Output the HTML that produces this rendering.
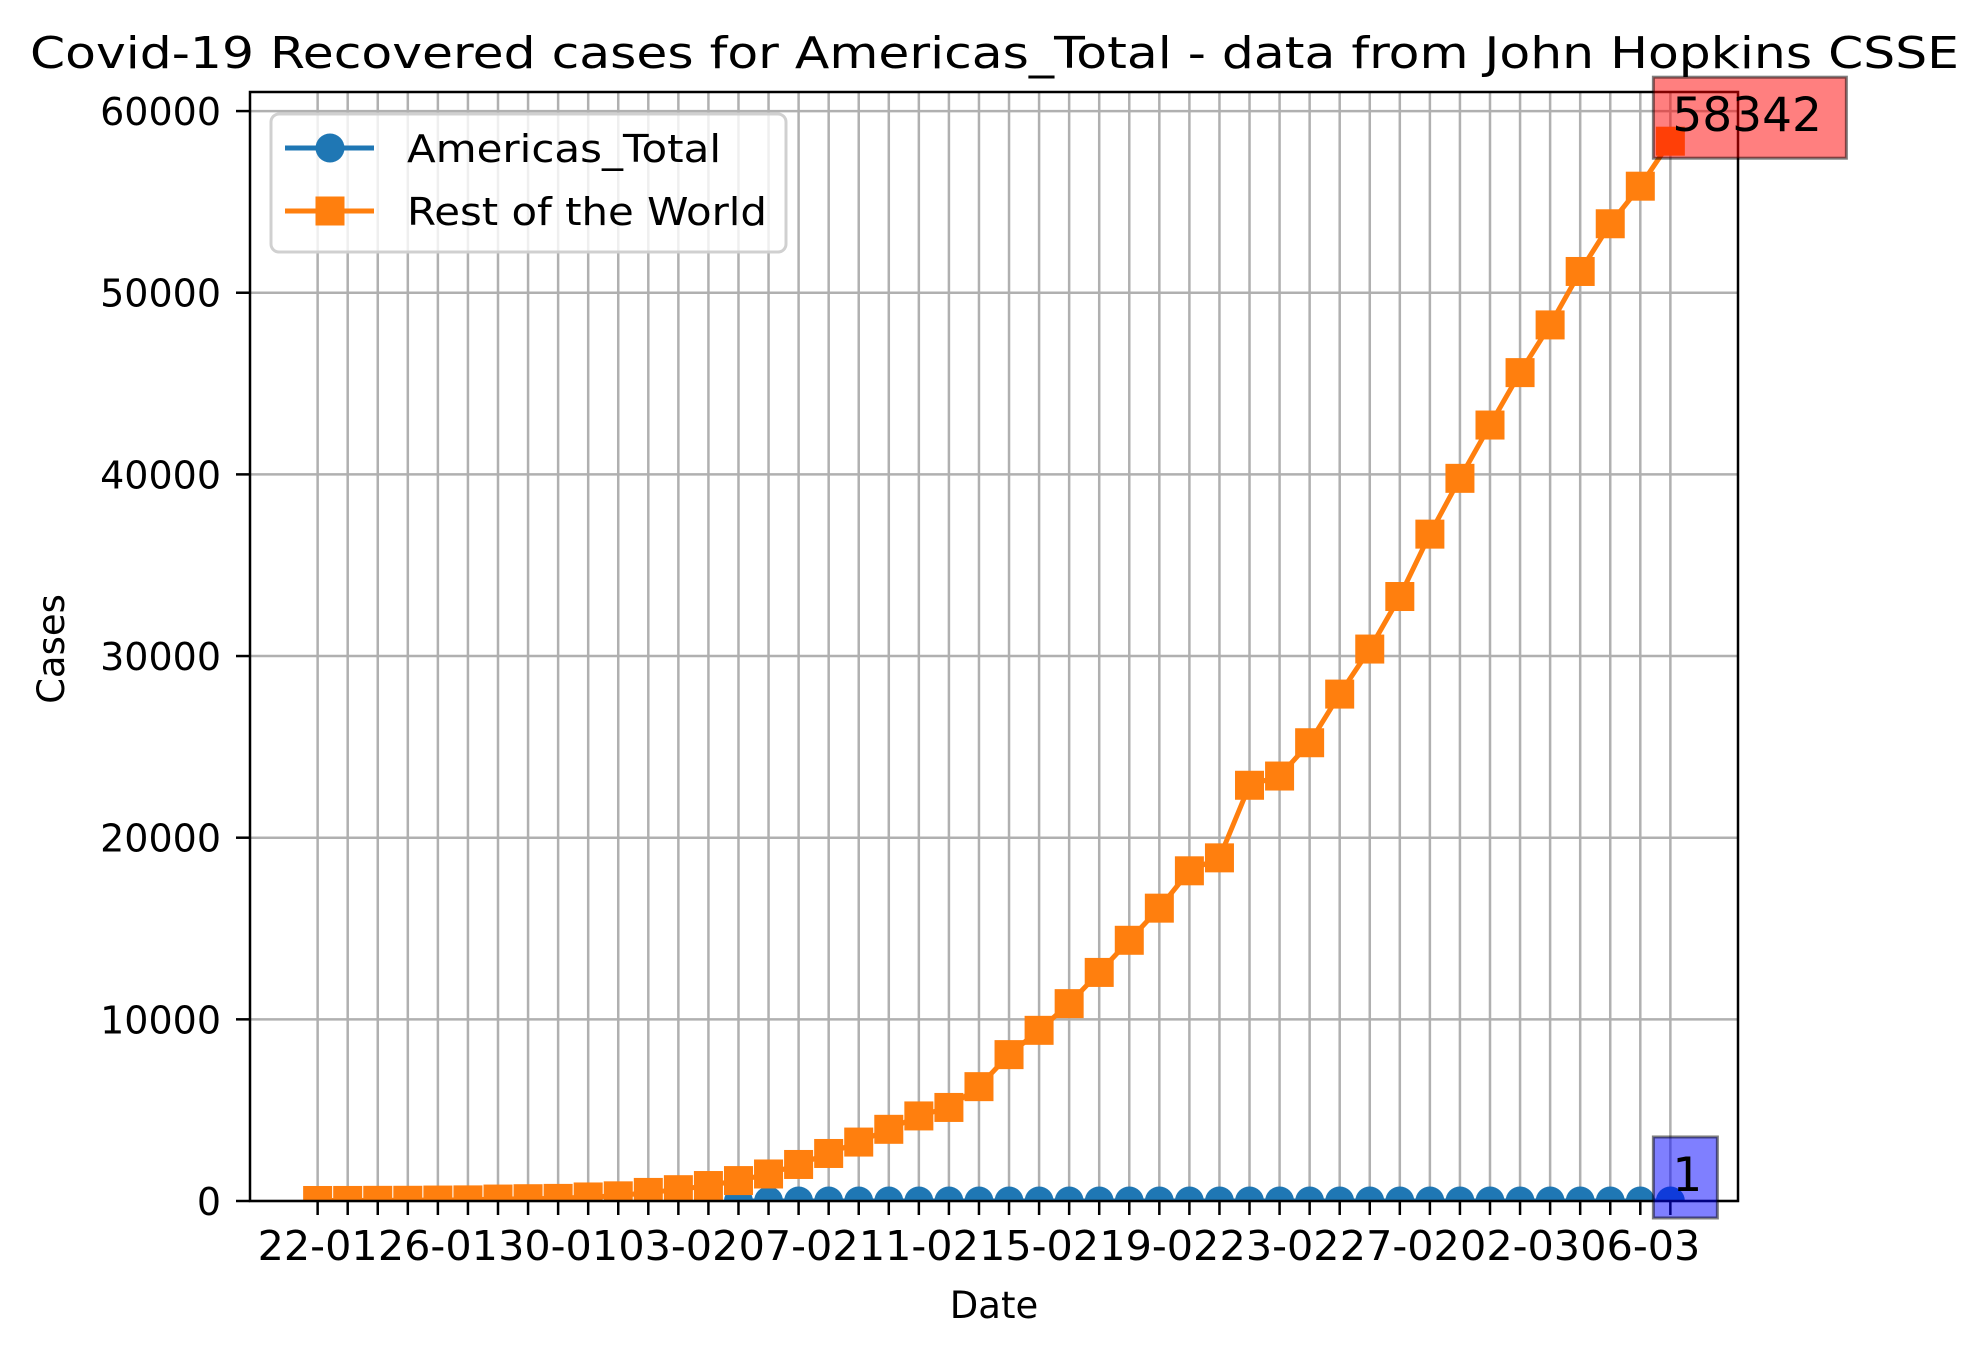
<!DOCTYPE html>
<html><head><meta charset="utf-8"><style>
html,body{margin:0;padding:0;background:#fff;}
svg{display:block;font-family:"DejaVu Sans","Liberation Sans",sans-serif;}
</style></head>
<body>
<svg id="chart" width="1988" height="1357" viewBox="0 0 1988 1357" xmlns="http://www.w3.org/2000/svg">
<defs><clipPath id="plotclip"><rect x="250" y="92" width="1488" height="1109"/></clipPath></defs>
<rect x="0" y="0" width="1988" height="1357" fill="#fff"/>
<text x="30" y="68" font-size="44" textLength="1929" lengthAdjust="spacingAndGlyphs">Covid-19 Recovered cases for Americas_Total - data from John Hopkins CSSE</text>
<g id="grid"></g>
<g id="series" clip-path="url(#plotclip)"></g>
<g id="axes"></g>
<g id="annots"></g>
<text x="994" y="1318" font-size="37" text-anchor="middle">Date</text>
<text x="0" y="0" font-size="37" text-anchor="middle" transform="translate(64,649) rotate(-90)">Cases</text>
<g>
<rect x="271" y="114" width="515" height="138" rx="8" fill="#fff" fill-opacity="0.8" stroke="#d0d0d0" stroke-width="3"/>
<g>
<line x1="285" y1="148" x2="374" y2="148" stroke="#1f77b4" stroke-width="5"/>
<circle cx="330" cy="148" r="14.5" fill="#1f77b4"/>
<text x="407" y="162" font-size="38" textLength="314" lengthAdjust="spacingAndGlyphs">Americas_Total</text>
</g>
<g>
<line x1="285" y1="211" x2="374" y2="211" stroke="#ff7f0e" stroke-width="5"/>
<rect x="315.5" y="196.5" width="29" height="29" fill="#ff7f0e"/>
<text x="407" y="225" font-size="38" textLength="360" lengthAdjust="spacingAndGlyphs">Rest of the World</text>
</g>
</g>
</svg>
<script>
const dates = ["22-01","23-01","24-01","25-01","26-01","27-01","28-01","29-01","30-01","31-01","01-02","02-02","03-02","04-02","05-02","06-02","07-02","08-02","09-02","10-02","11-02","12-02","13-02","14-02","15-02","16-02","17-02","18-02","19-02","20-02","21-02","22-02","23-02","24-02","25-02","26-02","27-02","28-02","29-02","01-03","02-03","03-03","04-03","05-03","06-03","07-03"];
const restOfWorld = [28,30,36,39,52,61,107,126,143,222,284,472,623,852,1124,1487,2011,2616,3244,3946,4683,5150,6295,8058,9395,10865,12583,14352,16121,18177,18890,22886,23394,25227,27905,30384,33277,36711,39782,42716,45602,48228,51170,53796,55865,58342];
const americas = [null,null,null,null,null,null,null,null,null,null,null,null,null,null,0,0,0,0,0,0,0,0,0,0,0,0,0,0,0,0,0,0,0,0,0,0,0,0,0,0,0,0,0,0,0,1];
const yTicks = [0,10000,20000,30000,40000,50000,60000];
const xTickEvery = 4;

const NS = "http://www.w3.org/2000/svg";
const L = 250, R = 1738, T = 92, B = 1201;
const n = dates.length;
const pad = (n - 1) * 0.05;
function xs(i){ return L + (i + pad) / (n - 1 + 2 * pad) * (R - L); }
const yMax = 61050;
function ys(v){ return B - v / yMax * (B - T); }
function mk(tag, attrs, parent){
  const e = document.createElementNS(NS, tag);
  for (const k in attrs) e.setAttribute(k, attrs[k]);
  parent.appendChild(e);
  return e;
}
const grid = document.getElementById('grid');
const axes = document.getElementById('axes');
const series = document.getElementById('series');
const annots = document.getElementById('annots');

dates.forEach((d, i) => {
  const g = mk('line', {x1: xs(i), x2: xs(i), y1: T, y2: B, stroke: '#b0b0b0', 'stroke-width': 2.5}, grid);
  
  
  const t = mk('line', {x1: xs(i), x2: xs(i), y1: B, y2: B + 14, stroke: '#000', 'stroke-width': 2.5}, axes);
  
  
  if (i % xTickEvery === 0) {
    const lb = mk('text', {x: xs(i) - 60, y: 1260, 'font-size': 41, textLength: 120, lengthAdjust: 'spacingAndGlyphs'}, axes);
    
    
    lb.textContent = d;
  }
});
yTicks.forEach(v => {
  const g = mk('line', {x1: L, x2: R, y1: ys(v), y2: ys(v), stroke: '#b0b0b0', 'stroke-width': 2.5}, grid);
  
  
  const t = mk('line', {x1: L - 14, x2: L, y1: ys(v), y2: ys(v), stroke: '#000', 'stroke-width': 2.5}, axes);
  
  
  const lb = mk('text', {x: 221, y: ys(v) + 14, 'font-size': 38, 'text-anchor': 'end'}, axes);
  
  
  lb.textContent = v;
});
const frame = mk('rect', {x: L, y: T, width: R - L, height: B - T, fill: 'none', stroke: '#000', 'stroke-width': 2.5}, axes);



let pts = [];
americas.forEach((v, i) => { if (v !== null) pts.push(xs(i) + ',' + ys(v)); });
const la = mk('polyline', {points: pts.join(' '), fill: 'none', stroke: '#1f77b4', 'stroke-width': 5}, series);


americas.forEach((v, i) => {
  if (v === null) return;
  const c = mk('circle', {cx: xs(i), cy: ys(v), r: 14.5, fill: '#1f77b4'}, series);
  
  
});
pts = restOfWorld.map((v, i) => xs(i) + ',' + ys(v));
const lr = mk('polyline', {points: pts.join(' '), fill: 'none', stroke: '#ff7f0e', 'stroke-width': 5}, series);


restOfWorld.forEach((v, i) => {
  const s = mk('rect', {x: xs(i) - 14.5, y: ys(v) - 14.5, width: 29, height: 29, fill: '#ff7f0e'}, series);
  
  
});

function annot(i, v, color, name, w){
  const px = xs(i), py = ys(v);
  const b = mk('rect', {x: px - 17, y: py - 64, width: w, height: 81, fill: color, 'fill-opacity': 0.5, stroke: '#000', 'stroke-opacity': 0.5, 'stroke-width': 3}, annots);
  
  
  const t = mk('text', {x: px + 2, y: py - 10, 'font-size': 47}, annots);
  
  
  t.textContent = v;
}
annot(n - 1, restOfWorld[n - 1], '#ff0000', 'rest-of-world-last-value', 193);
annot(n - 1, americas[n - 1], '#0000ff', 'americas-last-value', 64);
</script>
</body></html>
